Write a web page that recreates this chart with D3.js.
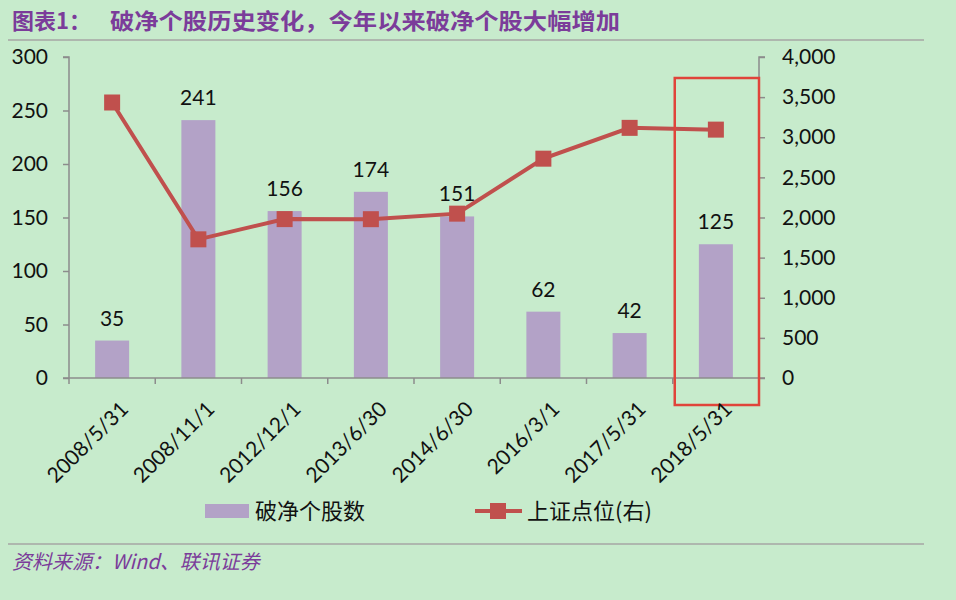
<!DOCTYPE html>
<html><head><meta charset="utf-8">
<script src="https://cdn.jsdelivr.net/npm/d3@7"></script>
<style>
body{margin:0;background:#c7ebcc;}
svg{display:block;}
</style></head>
<body>
<script>
const categories = ["2008/5/31","2008/11/1","2012/12/1","2013/6/30","2014/6/30","2016/3/1","2017/5/31","2018/5/31"];
const pbCount = [35,241,156,174,151,62,42,125];
const shIndex = [3433,1728,1980,1979,2048,2733,3117,3095];
const leftTicks = [0,50,100,150,200,250,300];
const rightTicks = [0,500,1000,1500,2000,2500,3000,3500,4000];

const W=956,H=600;
const svg=d3.select("body").append("svg").attr("width",W).attr("height",H);
svg.append("rect").attr("width",W).attr("height",H).attr("fill","#c7ebcc");

const plot={l:69,r:759,t:57,b:378};
const xb=d3.scaleBand().domain(categories).range([plot.l,plot.r]);
const yL=d3.scaleLinear().domain([0,300]).range([plot.b,plot.t]);
const yR=d3.scaleLinear().domain([0,4000]).range([plot.b,plot.t]);

const axisFont="Lato, 'Open Sans', sans-serif";
const axisColor="#8c8c8c";
const fs=21;
const cjk="'Noto Sans CJK SC', sans-serif";

// title
svg.append("text").attr("x",12).attr("y",29).attr("fill","#7b3c9a")
  .attr("font-family",cjk).attr("font-weight","bold").attr("font-size",22)
  .text("图表1：");
const t2=svg.append("text").attr("x",110).attr("y",29).attr("fill","#7b3c9a")
  .attr("font-family",cjk).attr("font-weight","bold").attr("font-size",22)
  .text("破净个股历史变化，今年以来破净个股大幅增加");
t2.attr("textLength",510).attr("lengthAdjust","spacingAndGlyphs");
svg.append("line").attr("x1",8).attr("x2",924).attr("y1",40).attr("y2",40).attr("stroke","#aeb7ae").attr("stroke-width",2);

// bars
svg.selectAll("rect.bar").data(categories).enter().append("rect").attr("class","bar")
  .attr("x",d=>xb(d)+xb.bandwidth()/2-17).attr("width",34)
  .attr("y",(d,i)=>yL(pbCount[i])).attr("height",(d,i)=>plot.b-yL(pbCount[i]))
  .attr("fill","#b3a2c7");
svg.selectAll("text.lbl").data(categories).enter().append("text")
  .attr("x",d=>xb(d)+xb.bandwidth()/2).attr("y",(d,i)=>yL(pbCount[i])-15)
  .attr("text-anchor","middle").attr("font-family",axisFont).attr("font-size",fs).attr("fill","#111")
  .text((d,i)=>pbCount[i]);

// left axis
const gL=svg.append("g").attr("transform",`translate(${plot.l},0)`)
  .call(d3.axisLeft(yL).tickValues(leftTicks).tickSize(6).tickPadding(15));
// right axis
const gR=svg.append("g").attr("transform",`translate(${plot.r},0)`)
  .call(d3.axisRight(yR).tickValues(rightTicks).tickSize(6).tickPadding(17).tickFormat(d3.format(",")));
// x axis
const gX=svg.append("g").attr("transform",`translate(0,${plot.b})`)
  .call(d3.axisBottom(xb).tickSize(0).tickFormat(""));
[gL,gR,gX].forEach(g=>{
  g.select(".domain").attr("stroke",axisColor).attr("stroke-width",1.5);
  g.selectAll(".tick line").attr("stroke",axisColor).attr("stroke-width",1.5);
  g.selectAll(".tick text").attr("font-family",axisFont).attr("font-size",fs).attr("fill","#111");
});
gL.select(".domain").attr("d",`M-6,${plot.t}H0V${plot.b}`);
gR.select(".domain").attr("d",`M6,${plot.t}H0V${plot.b}`);
gX.select(".domain").attr("d",`M${plot.l-6},0H${plot.r+6}`);
const bounds=categories.map(d=>xb(d)).concat([plot.r]);
gX.selectAll("line.bt").data(bounds).enter().append("line").attr("class","bt")
  .attr("x1",d=>d).attr("x2",d=>d).attr("y1",0).attr("y2",6).attr("stroke",axisColor).attr("stroke-width",1.5);

// line
const cx=d=>xb(d)+xb.bandwidth()/2;
const line=d3.line().x((d,i)=>cx(categories[i])).y(d=>yR(d));
svg.append("path").datum(shIndex).attr("d",line).attr("fill","none").attr("stroke","#c0504d").attr("stroke-width",4);
svg.selectAll("rect.mk").data(shIndex).enter().append("rect")
  .attr("x",(d,i)=>cx(categories[i])-8).attr("y",d=>yR(d)-8).attr("width",16).attr("height",16).attr("fill","#c0504d");

// highlight box
svg.append("rect").attr("x",xb(categories[7])+2).attr("y",78).attr("width",plot.r-xb(categories[7])-2).attr("height",327)
  .attr("fill","none").attr("stroke","#e0443a").attr("stroke-width",2.5);

// x labels
svg.selectAll("text.xl").data(categories).enter().append("text")
  .attr("transform",d=>`translate(${cx(d)+7},${plot.b+22}) rotate(-45)`)
  .attr("text-anchor","end").attr("dy","0.7em").attr("font-family",axisFont).attr("font-size",fs).attr("fill","#111")
  .text(d=>d);

// legend
svg.append("rect").attr("x",205).attr("y",504).attr("width",44).attr("height",14).attr("fill","#b3a2c7");
svg.append("text").attr("x",255).attr("y",519).attr("font-family",cjk).attr("font-size",22).attr("fill","#111").text("破净个股数");
svg.append("line").attr("x1",475).attr("x2",522).attr("y1",511).attr("y2",511).attr("stroke","#c0504d").attr("stroke-width",4);
svg.append("rect").attr("x",490).attr("y",503).attr("width",16).attr("height",16).attr("fill","#c0504d");
svg.append("text").attr("x",527).attr("y",519).attr("font-family",cjk).attr("font-size",22).attr("fill","#111").text("上证点位(右)");

// footer
svg.append("line").attr("x1",8).attr("x2",924).attr("y1",544).attr("y2",544).attr("stroke","#aeb7ae").attr("stroke-width",2);
svg.append("text").attr("x",12).attr("y",569).attr("fill","#7b3c9a").attr("font-style","italic")
  .attr("font-family",cjk).attr("font-size",20).text("资料来源：Wind、联讯证券");
</script>
</body></html>
